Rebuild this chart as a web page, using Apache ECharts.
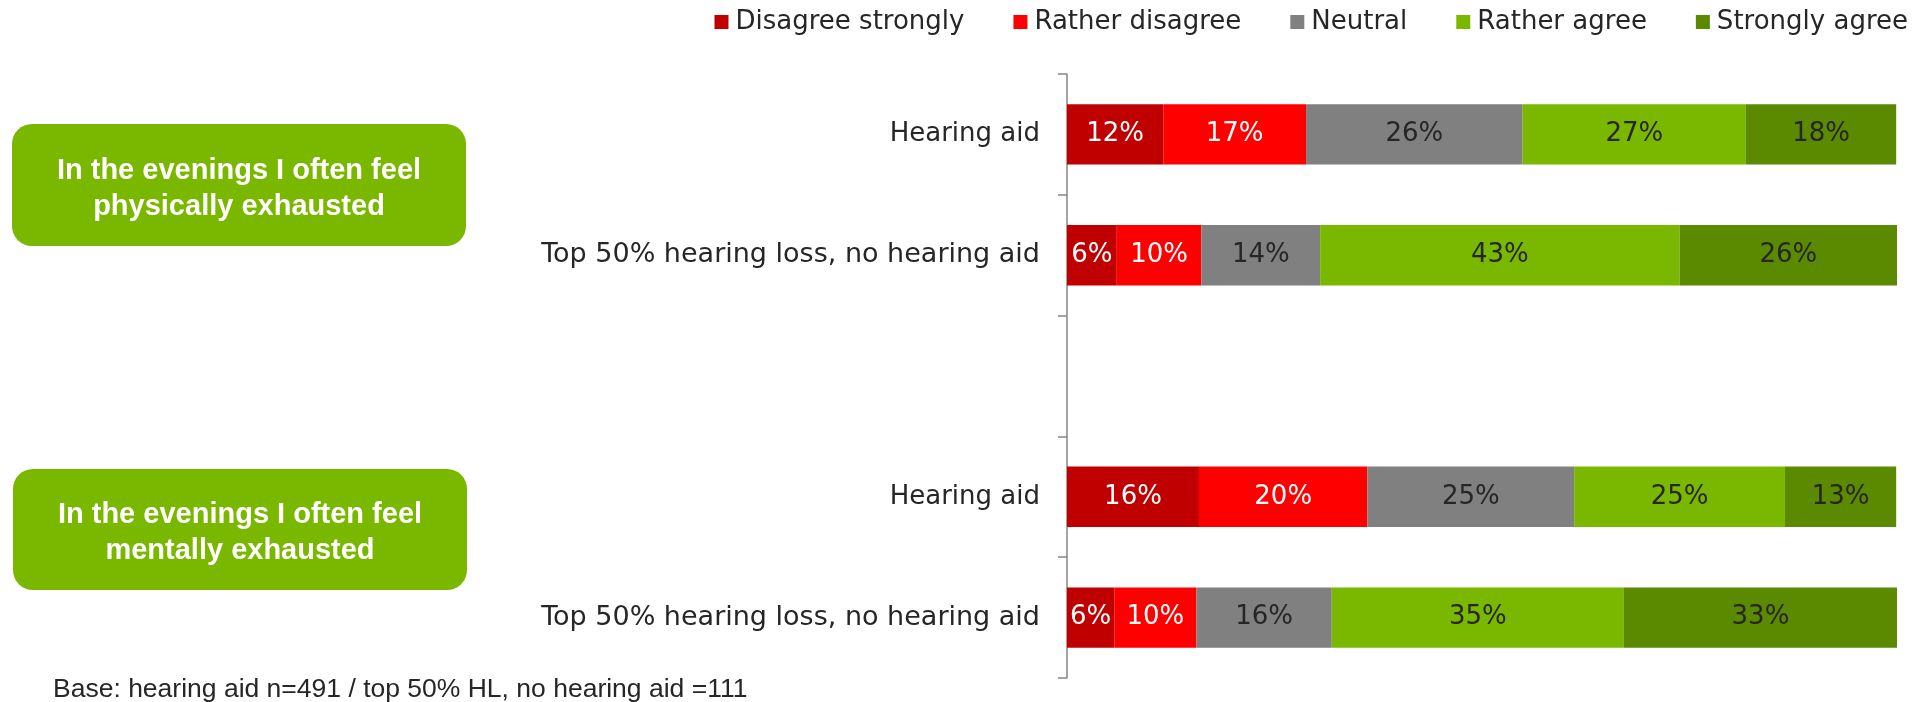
<!DOCTYPE html>
<html>
<head>
<meta charset="utf-8">
<script src="https://cdn.jsdelivr.net/npm/echarts@6/dist/echarts.min.js"></script>
<style>
  html, body { margin: 0; padding: 0; background: #ffffff; }
  #chart { width: 1916px; height: 702px; }
</style>
</head>
<body>
<div id="chart"></div>
<script>
// ---- data ----
const categories = ['Hearing aid', 'Top 50% hearing loss, no hearing aid', '', 'Hearing aid', 'Top 50% hearing loss, no hearing aid'];
const seriesNames = ['Disagree strongly', 'Rather disagree', 'Neutral', 'Rather agree', 'Strongly agree'];
const disagreeStrongly = [11.6, 6.0, null, 15.9, 5.7];
const ratherDisagree   = [17.2, 10.2, null, 20.3, 9.9];
const neutral          = [26.1, 14.3, null, 24.9, 16.3];
const ratherAgree      = [26.9, 43.3, null, 25.4, 35.2];
const stronglyAgree    = [18.1, 26.2, null, 13.4, 33.0];
const statements = ['In the evenings I often feel\nphysically exhausted', 'In the evenings I often feel\nmentally exhausted'];
const footnote = 'Base: hearing aid n=491 / top 50% HL, no hearing aid =111';

const colors = ['#C00000', '#FF0000', '#808080', '#7AB800', '#5B8A00'];
const labelColors = ['#ffffff', '#ffffff', '#262626', '#262626', '#262626'];
const values = [disagreeStrongly, ratherDisagree, neutral, ratherAgree, stronglyAgree];
const FONT = '"DejaVu Sans", Verdana, sans-serif';

const chart = echarts.init(document.getElementById('chart'), null, { renderer: 'canvas' });

const series = seriesNames.map((name, i) => ({
  name: name,
  type: 'bar',
  stack: 'total',
  barWidth: '50%',
  data: values[i],
  itemStyle: { color: colors[i] },
  label: {
    show: true,
    position: 'inside',
    color: labelColors[i],
    fontFamily: FONT,
    fontSize: 26,
    formatter: p => (p.value == null ? '' : Math.round(p.value) + '%')
  },
  emphasis: { disabled: true }
}));

const boxes = [
  { x: 12, y: 124, w: 454, h: 122, ty: 189 },
  { x: 13, y: 469, w: 454, h: 121, ty: 533 }
];

chart.setOption({
  animation: false,
  backgroundColor: '#ffffff',
  color: colors,
  legend: {
    data: seriesNames,
    right: 8,
    top: 9,
    padding: 0,
    itemGap: 49,
    itemWidth: 14,
    itemHeight: 14,
    icon: 'rect',
    selectedMode: false,
    textStyle: { fontFamily: FONT, fontSize: 26, color: '#262626', padding: [0, 0, 0, 2] }
  },
  grid: { left: 1067, right: 19, top: 74, bottom: 24, containLabel: false },
  xAxis: {
    type: 'value',
    min: 0,
    max: 100,
    show: false
  },
  yAxis: {
    type: 'category',
    inverse: true,
    data: categories,
    axisLine: { show: true, lineStyle: { color: '#868686', width: 1.5 } },
    axisTick: { show: true, length: 9, lineStyle: { color: '#868686', width: 1.5 } },
    axisLabel: {
      margin: 27,
      fontFamily: FONT,
      fontSize: 26,
      color: '#262626',
      formatter: v => (v.length > 20 ? '{w|' + v + '}' : v),
      rich: { w: { fontFamily: FONT, fontSize: 27, color: '#262626' } }
    },
    splitLine: { show: false }
  },
  series: series,
  graphic: [
    ...boxes.map((b, i) => ({
      type: 'group',
      children: [
        {
          type: 'rect',
          shape: { x: b.x, y: b.y, width: b.w, height: b.h, r: 20 },
          style: { fill: '#7AB800' }
        },
        {
          type: 'text',
          style: {
            text: statements[i],
            x: b.x + b.w / 2,
            y: b.ty,
            align: 'center',
            verticalAlign: 'middle',
            font: 'bold 29px "Liberation Sans", Arial, sans-serif',
            lineHeight: 36,
            fill: '#ffffff'
          }
        }
      ]
    })),
    {
      type: 'text',
      style: {
        text: footnote,
        x: 53,
        y: 690,
        align: 'left',
        verticalAlign: 'middle',
        font: '26.5px "Liberation Sans", Arial, sans-serif',
        fill: '#262626'
      }
    }
  ]
});
</script>
</body>
</html>
